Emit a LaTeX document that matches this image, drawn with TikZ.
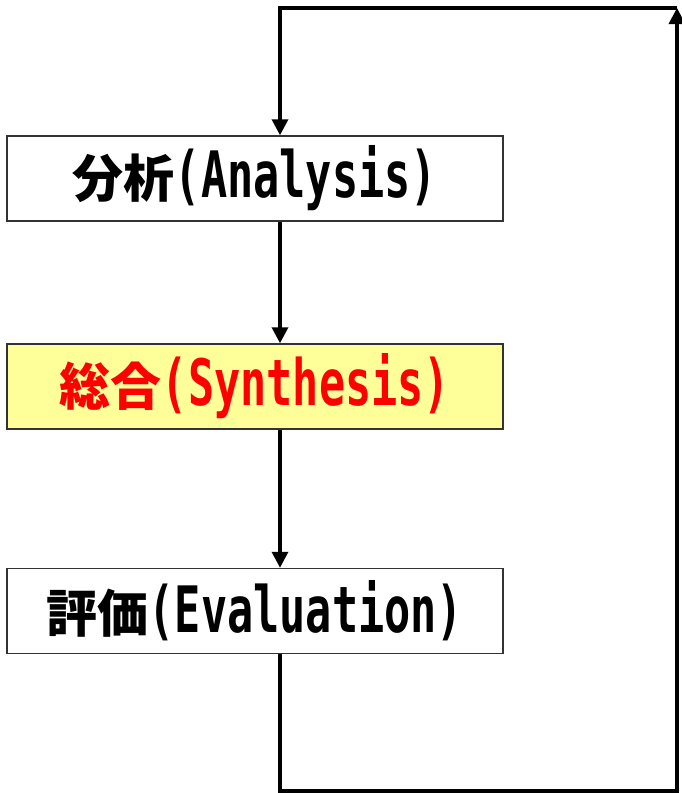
\documentclass[tikz,border=0pt]{standalone}
\usepackage{fontspec}
\usetikzlibrary{arrows.meta}
\newfontfamily\cjkfont{Noto Sans CJK JP}
\newfontfamily\latinmono{DejaVu Sans Mono}
% CJK part of a label
\newcommand{\kj}[1]{{\cjkfont\bfseries\fontsize{51}{51}\selectfont #1}}
% condensed half-width Latin part of a label
\newcommand{\hw}[1]{{\latinmono\bfseries\fontsize{64}{64}\selectfont\scalebox{0.68}[1]{#1}}}
\definecolor{stagefill}{HTML}{FFFF99}
\definecolor{stageborder}{HTML}{333333}
\tikzset{
  stage/.style={draw=stageborder, line width=1.5pt, fill=white, rectangle,
    minimum width=496pt, minimum height=85pt, inner sep=0pt, anchor=center},
  flow/.style={line width=3.5pt, draw=black},
  tip/.style={-{Triangle[width=16pt,length=16pt]}}
}
\begin{document}
\begin{tikzpicture}[x=1pt,y=-1pt]
  \useasboundingbox (0,0) rectangle (681,793);
  \coordinate (spine) at (280,0);
  \coordinate (topright) at (677,8);
  \coordinate (botright) at (677,791);

  \node[stage] (ana) at (255,178.5) {\kj{分析}\hw{(Analysis)}};
  \node[stage, fill=stagefill, text=red] (syn) at (255,386.5) {\kj{総合}\hw{(Synthesis)}};
  \node[stage] (eva) at (255,611) {\kj{評価}\hw{(Evaluation)}};

  \draw[flow, tip] (ana.south -| spine) -- (syn.north -| spine);
  \draw[flow, tip] (syn.south -| spine) -- (eva.north -| spine);
  \draw[flow, tip, line join=miter] (eva.south -| spine) |- (botright) -- (topright);
  \draw[flow, tip, line join=miter] (topright) -| (ana.north -| spine);
\end{tikzpicture}
\end{document}
